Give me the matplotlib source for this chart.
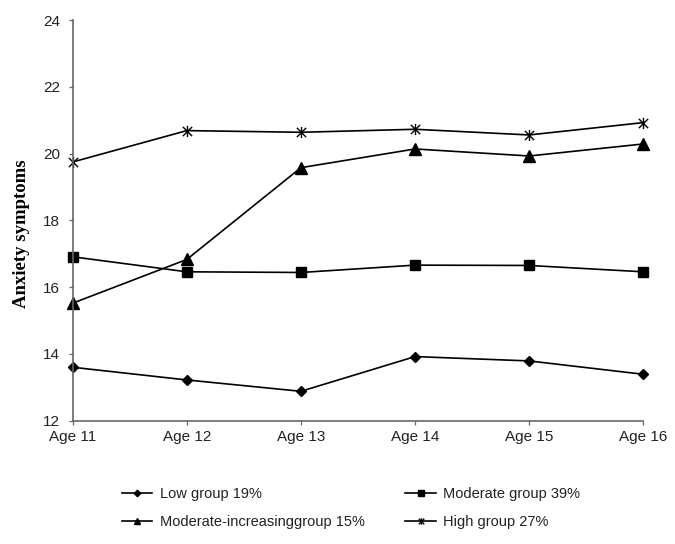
import matplotlib
matplotlib.use("Agg")
import matplotlib.pyplot as plt
from matplotlib.path import Path

# Ages along the x axis
ages = ["Age 11", "Age 12", "Age 13", "Age 14", "Age 15", "Age 16"]

# mean anxiety symptoms per trajectory group
low = [13.60, 13.22, 12.88, 13.92, 13.79, 13.39]
moderate = [16.91, 16.46, 16.44, 16.66, 16.65, 16.46]
mod_increasing = [15.52, 16.83, 19.58, 20.14, 19.93, 20.29]
high = [19.75, 20.69, 20.64, 20.73, 20.56, 20.93]

y_ticks = [12, 14, 16, 18, 20, 22, 24]

plt.rcParams['font.family'] = ['Liberation Sans', 'DejaVu Sans']

# x with a vertical bar through it, like the old Excel asterisk marker
star = Path([(-1, -1), (1, 1), (-1, 1), (1, -1), (0, -1.2), (0, 1.2)],
            [Path.MOVETO, Path.LINETO, Path.MOVETO, Path.LINETO, Path.MOVETO, Path.LINETO])

fig = plt.figure(figsize=(6.75, 5.44), dpi=100)
ax = fig.add_axes([0.1077, 0.2267, 0.8453, 0.7363])

x = list(range(len(ages)))
lw = 1.2
l1, = ax.plot(x, low, color="black", lw=lw, marker="D", ms=5.5, mfc="black", mec="black", clip_on=False)
l2, = ax.plot(x, moderate, color="black", lw=lw, marker="s", ms=7.2, mfc="black", mec="black", clip_on=False)
l3, = ax.plot(x, mod_increasing, color="black", lw=lw, marker="^", ms=8, mfc="black", mec="black", clip_on=False)
l4, = ax.plot(x, high, color="black", lw=lw, marker=star, ms=8, mew=1.0, mec="black", mfc="none", clip_on=False)

ax.set_xlim(0, len(ages) - 1)
ax.set_ylim(12, 24)
ax.set_yticks(y_ticks)
ax.set_xticks(x)
ax.set_xticklabels(ages)
ax.tick_params(axis="both", direction="out", length=3, width=0.9, colors="#666666",
               labelsize=11, labelcolor="#222222")
ax.tick_params(axis="y", pad=6)
ax.tick_params(axis="x", pad=4)

for side in ["top", "right"]:
    ax.spines[side].set_visible(False)
for side in ["left", "bottom"]:
    ax.spines[side].set_color("#666666")
    ax.spines[side].set_linewidth(1.2)

ax.set_ylabel("Anxiety symptoms", fontsize=13.5, fontweight="bold",
              family=["Liberation Serif", "DejaVu Serif"])
ax.yaxis.set_label_coords(-0.074, 0.468)

handles = [l1, l3, l2, l4]
labels = ["Low group 19%", "Moderate-increasinggroup 15%",
          "Moderate group 39%", "High group 27%"]
leg = fig.legend(handles, labels, ncol=2, loc="center", bbox_to_anchor=(0.52, 0.066),
                 frameon=False, fontsize=10.5, handlelength=2.1, handletextpad=0.5,
                 columnspacing=2.8, labelspacing=0.95, markerscale=0.6)
for t in leg.get_texts():
    t.set_color("#222222")

fig.savefig("out.png", dpi=100)
